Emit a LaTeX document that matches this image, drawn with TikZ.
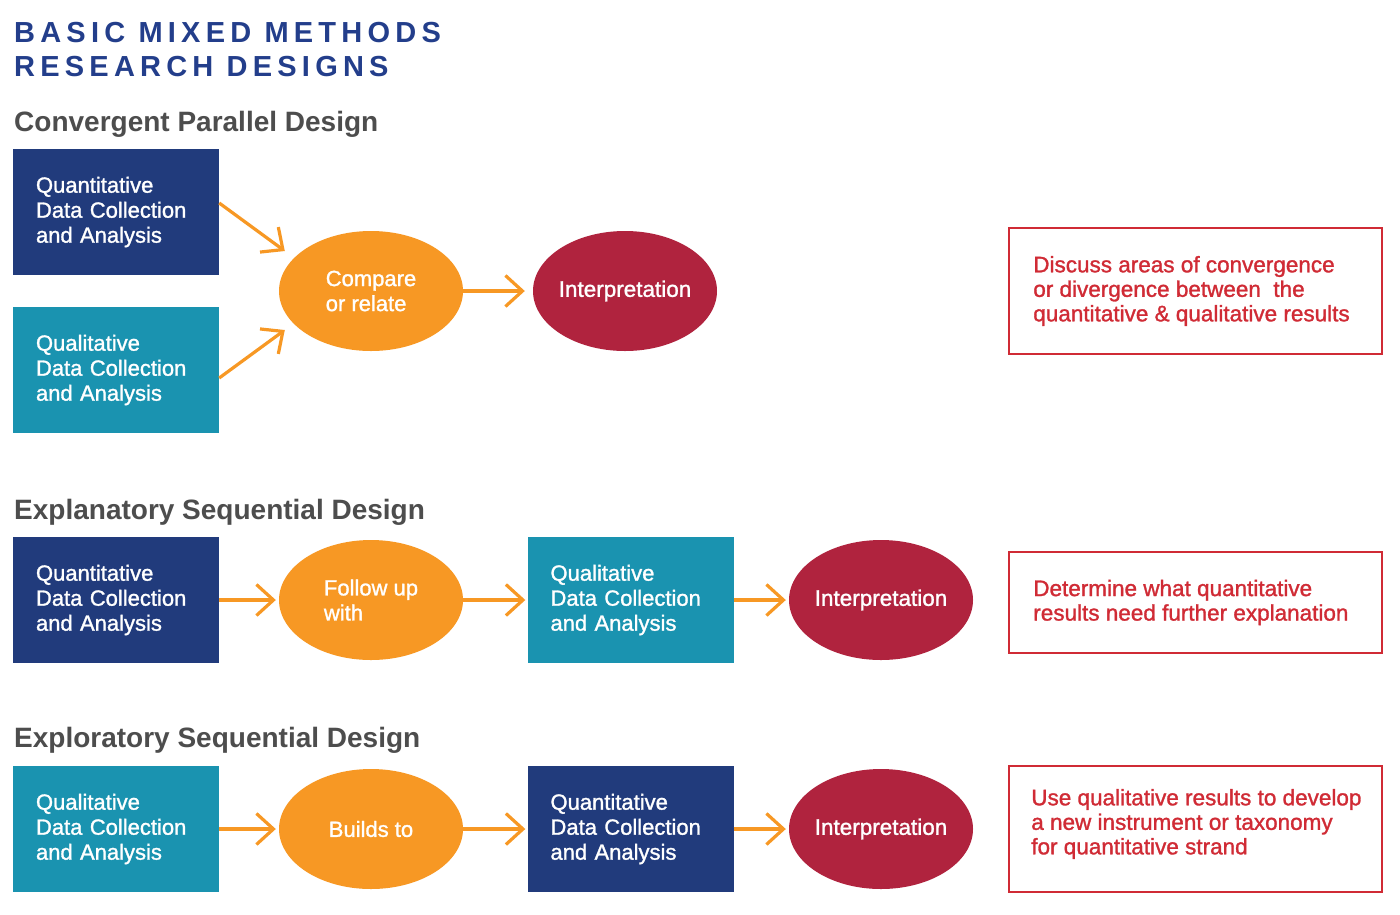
\documentclass[tikz,border=0pt]{standalone}
\usepackage{fontspec}
\setmainfont{Liberation Sans}
\newfontfamily\titlefont[LetterSpace=18]{Liberation Sans}
\newfontfamily\medfont[FakeBold=1.3]{Liberation Sans}
\usetikzlibrary{arrows.meta,calc,shapes.geometric}
\definecolor{cqnavy}{HTML}{213B7C}
\definecolor{cqteal}{HTML}{1A93B0}
\definecolor{cqorange}{HTML}{F79824}
\definecolor{cqwine}{HTML}{B0233E}
\definecolor{cqred}{HTML}{D02B35}
\definecolor{cqgray}{HTML}{4D4D4D}
\definecolor{cqtitle}{HTML}{233E8B}
\tikzset{
  boxtext/.style={font=\fontsize{22}{25}\medfont, text=white},
  quantbox/.style={rectangle, fill=cqnavy, minimum width=206pt, minimum height=126pt,
    inner xsep=23pt, inner ysep=0pt, text width=160pt, align=left, boxtext},
  qualbox/.style={quantbox, fill=cqteal},
  oval/.style={ellipse, fill=cqorange, minimum width=184pt, minimum height=120pt,
    inner sep=0pt, align=left, boxtext},
  interp/.style={oval, fill=cqwine, inner xsep=-8pt, font=\fontsize{22.5}{25}\medfont},
  notebox/.style={rectangle, draw=cqred, line width=1.8pt, fill=white,
    minimum width=373pt, inner sep=0pt},
  notetext/.style={anchor=west, align=left, text=cqred, inner sep=0pt,
    font=\fontsize{22.5}{24.5}\medfont},
  heading/.style={anchor=base west, inner sep=0pt, text=cqgray,
    font=\fontsize{28}{30}\selectfont\bfseries},
  titletext/.style={anchor=base west, inner sep=0pt, text=cqtitle,
    font=\fontsize{29}{30}\titlefont\bfseries},
  flow/.style={draw=cqorange, line width=3.2pt,
    -{Straight Barb[length=17pt,width=31pt]}}
}
\begin{document}
\begin{tikzpicture}[x=1pt,y=-1pt]
\useasboundingbox[fill=white] (0,0) rectangle (1400,914);

% titles
\node[titletext] (title1) at (14,42) {BASIC MIXED METHODS};
\node[titletext] (title2) at (14,76) {RESEARCH DESIGNS};

% ---- Convergent Parallel Design
\node[heading] (h1) at (14,131) {Convergent Parallel Design};
\node[quantbox] (q1) at (116,212) {Quantitative\\Data Collection\\and Analysis};
\node[qualbox] (ql1) at (116,370) {Qualitative\\Data Collection\\and Analysis};
\node[oval] (cmp) at (371,291) {Compare\\or relate};
\node[interp] (int1) at (625,291) {Interpretation};
\node[notebox, minimum height=126pt] (note1) at (1195.5,291) {};
\node[notetext] (nt1) at ($(note1.west)+(25,0)$)
  {Discuss areas of convergence\\or divergence between\ \ the\\quantitative \& qualitative results};
\draw[flow] ($(q1.east)+(0,-9)$) -- ($(cmp.west)+(6,-40)$);
\draw[flow] ($(ql1.east)+(0,8)$) -- ($(cmp.west)+(6,39)$);
\draw[flow, shorten >=8pt] (cmp) -- (int1);

% ---- Explanatory Sequential Design
\node[heading] (h2) at (14,519) {Explanatory Sequential Design};
\node[quantbox] (q2) at (116,600) {Quantitative\\Data Collection\\and Analysis};
\node[oval] (fol) at (371,600) {Follow up\\with};
\node[qualbox] (ql2) at (630.5,600) {Qualitative\\Data Collection\\and Analysis};
\node[interp] (int2) at (881,600) {Interpretation};
\node[notebox, minimum height=101pt] (note2) at (1195.5,602.5) {};
\node[notetext] (nt2) at ($(note2.west)+(25,0)$)
  {Determine what quantitative\\results need further explanation};
\draw[flow, shorten >=3pt] (q2) -- (fol);
\draw[flow, shorten >=2pt] (fol) -- (ql2);
\draw[flow, shorten >=3pt] (ql2) -- (int2);

% ---- Exploratory Sequential Design
\node[heading] (h3) at (14,747) {Exploratory Sequential Design};
\node[qualbox] (ql3) at (116,829) {Qualitative\\Data Collection\\and Analysis};
\node[oval] (bld) at (371,829) {Builds to};
\node[quantbox] (q3) at (630.5,829) {Quantitative\\Data Collection\\and Analysis};
\node[interp] (int3) at (881,829) {Interpretation};
\node[notebox, minimum height=126pt] (note3) at (1195.5,829) {};
\node[notetext] (nt3) at ($(note3.west)+(23,-5)$)
  {Use qualitative results to develop\\a new instrument or taxonomy\\for quantitative strand};
\draw[flow, shorten >=3pt] (ql3) -- (bld);
\draw[flow, shorten >=2pt] (bld) -- (q3);
\draw[flow, shorten >=3pt] (q3) -- (int3);
\end{tikzpicture}
\end{document}
